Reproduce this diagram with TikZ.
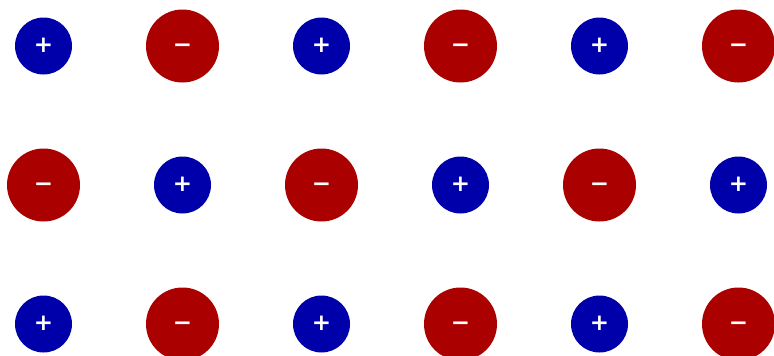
\documentclass[tikz,border=0pt]{standalone}
\usepackage{fontspec}
\newfontfamily\ionfont{DejaVu Sans}
\usepackage{tikz}
\usetikzlibrary{positioning}
\definecolor{ionBlue}{HTML}{0000AA}
\definecolor{ionRed}{HTML}{AA0000}
\tikzset{
  ion/.style={
    circle,
    inner sep=0pt,
    text=white,
    text height=1.3em,
    text depth=0pt,
    font=\ionfont\bfseries\fontsize{23}{23}\selectfont
  },
  cation/.style={
    ion,
    fill=ionBlue,
    minimum size=57pt
  },
  anion/.style={
    ion,
    fill=ionRed,
    minimum size=73pt
  }
}

\begin{document}
\begin{tikzpicture}[x=1pt,y=1pt]
  \useasboundingbox (0,0) rectangle (774,-356);
  % lattice of alternating ions
  \foreach \r in {0,1,2} {
    \foreach \c in {0,...,5} {
      \pgfmathtruncatemacro{\parity}{mod(\r+\c,2)}
      \ifnum\parity=0
        \node[cation] (ion-\r-\c) at (43.5+139*\c,-46-139*\r) {+};
      \else
        \node[anion] (ion-\r-\c) at (43.5+139*\c,-46-139*\r) {−};
      \fi
    }
  }
\end{tikzpicture}
\end{document}
